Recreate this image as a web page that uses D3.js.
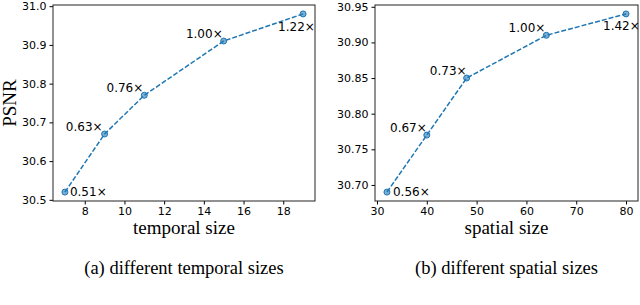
<!DOCTYPE html>
<html>
<head>
<meta charset="utf-8">
<script src="https://cdn.jsdelivr.net/npm/d3@7"></script>
<style>
  body { margin: 0; background: #fff; }
  svg { display: block; }
  .tick text { font-family: "DejaVu Sans", sans-serif; font-size: 11px; fill: #000; }
  .ann { font-family: "DejaVu Sans", sans-serif; font-size: 12px; fill: #000; }
  .axlabel { font-family: "Liberation Serif", serif; font-size: 19px; fill: #000; }
  .caption { font-family: "Liberation Serif", serif; font-size: 18.5px; fill: #000; }
</style>
</head>
<body>
<svg id="chart" width="640" height="305"></svg>
<script>
// panel (a): temporal size
const temporalSizes = [7, 9, 11, 15, 19];
const temporalPsnr = [30.52, 30.67, 30.77, 30.91, 30.98];
const temporalCost = ['0.51×', '0.63×', '0.76×', '1.00×', '1.22×'];
const temporalXTicks = [8, 10, 12, 14, 16, 18];
const temporalYTicks = [30.5, 30.6, 30.7, 30.8, 30.9, 31.0];

// panel (b): spatial size
const spatialSizes = [32, 40, 48, 64, 80];
const spatialPsnr = [30.69, 30.77, 30.85, 30.91, 30.94];
const spatialCost = ['0.56×', '0.67×', '0.73×', '1.00×', '1.42×'];
const spatialXTicks = [30, 40, 50, 60, 70, 80];
const spatialYTicks = [30.70, 30.75, 30.80, 30.85, 30.90, 30.95];

const blue = '#1f77b4';
var svg = d3.select('#chart');

// label placement: [anchor, dx, dy]
const temporalPlace = [['start', 5, 0], ['end', -2, -7], ['end', -1, -7], ['end', -1, -7], ['start', -25, 13]];
const spatialPlace = [['start', 6, 0], ['end', 0, -7], ['end', 0, -7], ['end', -1, -7], ['start', -23, 12]];

function pad(ext) {
    var m = (ext[1] - ext[0]) * 0.05;
    return [ext[0] - m, ext[1] + m];
}

function panel(opt) {
    var left = opt.left, right = opt.right, top = 5, bottom = 201;
    var xs = d3.scaleLinear().domain(pad(d3.extent(opt.xs))).range([left, right]);
    var ys = d3.scaleLinear().domain(pad(d3.extent(opt.ys))).range([bottom, top]);
    var g = svg.append('g');

    g.append('g')
        .attr('transform', 'translate(0,' + bottom + ')')
        .call(d3.axisBottom(xs).tickValues(opt.xticks).tickSize(3.5).tickPadding(3).tickFormat(d3.format('d')))
        .call(function (a) { a.select('.domain').remove(); });
    g.append('g')
        .attr('transform', 'translate(' + left + ',0)')
        .call(d3.axisLeft(ys).tickValues(opt.yticks).tickSize(3.5).tickPadding(3).tickFormat(d3.format(opt.yfmt)))
        .call(function (a) { a.select('.domain').remove(); });

    g.append('rect')
        .attr('x', left).attr('y', top)
        .attr('width', right - left).attr('height', bottom - top)
        .attr('fill', 'none').attr('stroke', '#222').attr('stroke-width', 1);

    var pts = opt.xs.map(function (d, i) { return [d, opt.ys[i]]; });
    var line = d3.line().x(function (d) { return xs(d[0]); }).y(function (d) { return ys(d[1]); });
    g.append('path')
        .datum(pts)
        .attr('d', line)
        .attr('fill', 'none')
        .attr('stroke', blue)
        .attr('stroke-width', 1.5)
        .attr('stroke-dasharray', '5,2');

    g.selectAll('circle').data(pts).enter().append('circle')
        .attr('cx', function (d) { return xs(d[0]); })
        .attr('cy', function (d) { return ys(d[1]); })
        .attr('r', 3)
        .attr('fill', blue).attr('fill-opacity', 0.6)
        .attr('stroke', blue).attr('stroke-width', 1);

    g.selectAll('text.ann').data(pts).enter().append('text')
        .attr('class', 'ann')
        .attr('x', function (d, i) { return xs(d[0]) + opt.place[i][1]; })
        .attr('y', function (d, i) { return ys(d[1]) + opt.place[i][2]; })
        .attr('dy', '0.35em')
        .attr('text-anchor', function (d, i) { return opt.place[i][0]; })
        .text(function (d, i) { return opt.labels[i]; });

    var cx = (left + right) / 2;
    g.append('text').attr('class', 'axlabel')
        .attr('x', cx).attr('y', 234)
        .attr('text-anchor', 'middle')
        .text(opt.xlabel);
    g.append('text').attr('class', 'caption')
        .attr('x', cx).attr('y', 274)
        .attr('text-anchor', 'middle')
        .text(opt.caption);
}

panel({left: 53, right: 315, xs: temporalSizes, ys: temporalPsnr, labels: temporalCost,
       xticks: temporalXTicks, yticks: temporalYTicks, yfmt: '.1f', place: temporalPlace,
       xlabel: 'temporal size', caption: '(a) different temporal sizes'});
panel({left: 375, right: 638, xs: spatialSizes, ys: spatialPsnr, labels: spatialCost,
       xticks: spatialXTicks, yticks: spatialYTicks, yfmt: '.2f', place: spatialPlace,
       xlabel: 'spatial size', caption: '(b) different spatial sizes'});

svg.append('text').attr('class', 'axlabel')
    .attr('transform', 'translate(16,103) rotate(-90)')
    .attr('text-anchor', 'middle')
    .text('PSNR');
</script>
</body>
</html>
